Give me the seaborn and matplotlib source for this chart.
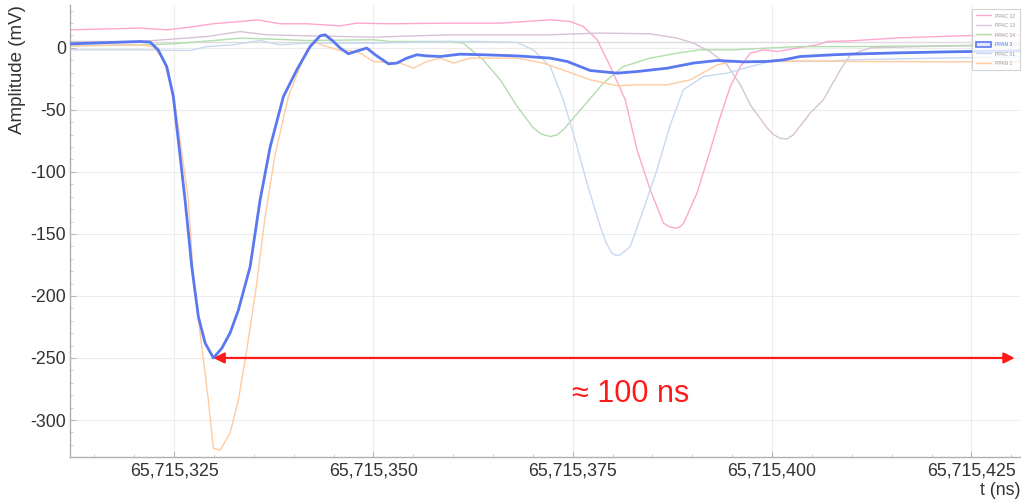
import numpy as np
import pandas as pd
import matplotlib
matplotlib.use("Agg")
import matplotlib.pyplot as plt
from matplotlib.ticker import MultipleLocator, FuncFormatter
from matplotlib.patches import Patch
from matplotlib.lines import Line2D
import seaborn as sns

# Time base (ns); sample times below are offsets from it
T0 = 65_715_300

# PPAN 3 (selected channel)
ppan3_t = [11.95, 15.7, 20.73, 22.0, 23.0, 24.08, 24.91, 26.38, 27.22, 28.05, 28.89, 29.93,
           30.98, 32.03, 33.07, 34.54, 35.79, 37.05, 38.71, 40.40, 42.06, 43.32, 43.95, 44.99,
           45.83, 46.87, 48.12, 49.18, 50.22, 51.89, 52.94, 54.20, 55.45, 56.71, 58.38, 60.88,
           63.77, 68.04, 72.18, 74.31, 77.20, 80.58, 83.09, 86.86, 90.12, 93.13, 96.39, 99.40,
           101.41, 103.54, 107.68, 109.82, 116.09, 122.37, 131.15]
ppan3_v = [3.2, 4.0, 5.1, 4.6, -1.6, -15.1, -39.3, -122.6, -176.4, -216.7, -237.9, -250.0,
           -242.2, -229.8, -211.3, -176.4, -122.6, -80.0, -39.3, -17.7, 1.0, 9.7, 10.5, 5.1,
           -0.2, -4.8, -2.2, -0.2, -5.6, -12.9, -12.3, -8.3, -5.6, -6.5, -7.0, -5.1,
           -5.6, -6.5, -8.3, -11.0, -18.3, -20.4, -19.1, -16.4, -12.3, -10.2, -11.3, -11.0,
           -9.7, -7.0, -5.6, -5.1, -4.0, -3.2, -2.4]

# PPAN 1
ppan1_t = [11.95, 20.73, 22.40, 23.66, 24.91, 25.75, 26.79, 27.42, 28.26, 29.30, 29.93, 30.77,
           32.03, 33.07, 34.12, 35.38, 36.42, 37.67, 39.34, 40.81, 41.65, 42.69, 44.16, 45.83,
           47.08, 48.34, 50.01, 52.10, 53.36, 55.02, 56.71, 58.38, 60.04, 62.14, 68.04, 71.30,
           74.31, 77.20, 80.58, 83.09, 86.86, 89.74, 93.13, 95.14, 99.40, 103.54, 109.82,
           122.37, 131.15]
ppan1_v = [1.6, 2.4, 1.0, -9.7, -36.5, -74.0, -122.6, -184.4, -229.8, -283.9, -322.8, -324.2,
           -310.5, -283.9, -243.5, -189.5, -136.0, -86.0, -39.3, -15.1, -1.6, 4.3, 1.0, -2.2,
           -2.2, -4.3, -11.0, -11.9, -12.3, -16.4, -11.0, -8.3, -12.3, -8.3, -8.3, -12.3,
           -19.1, -25.8, -30.6, -29.8, -29.8, -25.8, -13.7, -11.0, -11.0, -10.5, -11.0,
           -11.3, -11.3]

# PPAC 12
ppac12_t = [11.95, 20.73, 24.08, 27.01, 29.89, 33.28, 35.38, 38.30, 41.65, 45.83, 47.92, 52.10,
            59.63, 65.90, 72.18, 74.69, 76.32, 78.07, 79.71, 81.59, 83.06, 84.72, 86.39, 87.1,
            87.86, 88.4, 88.90, 90.58, 92.25, 93.51, 94.76, 96.02, 97.27, 98.94, 100.62, 103.13,
            105.64, 106.93, 109.82, 116.09, 123.62, 131.15]
ppac12_v = [14.5, 15.9, 14.5, 16.7, 19.4, 21.2, 22.6, 19.4, 19.4, 17.7, 19.9, 19.4,
            19.9, 19.9, 22.6, 21.2, 17.2, 6.5, -15.1, -41.9, -82.3, -114.5, -141.4, -144.2,
            -145.4, -144.5, -141.4, -117.2, -82.3, -55.4, -31.2, -15.1, -4.3, -1.6, -3.0, -0.2,
            2.4, 5.1, 5.6, 8.1, 9.7, 10.5]

# PPAC 01
ppac01_t = [11.95, 20.73, 27.01, 29.10, 32.40, 35.79, 38.30, 41.65, 49.97, 59.63, 63.77, 68.04,
            70.04, 72.18, 73.81, 75.06, 76.78, 78.45, 79.2, 79.92, 80.4, 80.96, 82.21, 83.85,
            85.56, 87.23, 88.86, 91.37, 94.38, 97.27, 99.78, 105.68, 109.82, 122.37, 131.15]
ppac01_v = [-1.6, -1.6, -2.2, 1.0, 2.4, 5.9, 2.4, 3.8, 3.8, 5.1, 5.1, 4.3,
            -1.6, -15.1, -41.9, -68.5, -108.9, -144.1, -157.5, -165.6, -167.3, -166.9, -160.2,
            -130.6, -98.4, -62.1, -33.9, -23.1, -20.4, -15.1, -11.0, -11.0, -9.7, -8.1, -7.3]

# PPAC 14
ppac14_t = [11.95, 20.73, 24.87, 31.15, 33.28, 37.42, 41.65, 49.97, 52.10, 59.63, 61.26, 63.77,
            65.90, 68.04, 70.04, 71.05, 72.18, 73.0, 73.81, 76.32, 78.83, 81.34, 84.72, 88.11,
            90.99, 95.14, 99.40, 103.54, 109.82, 122.37, 131.15]
ppac14_v = [1.6, 2.4, 3.2, 6.5, 7.8, 7.0, 5.9, 6.5, 5.1, 5.1, 3.8, -9.7,
            -25.8, -47.3, -64.5, -69.5, -71.5, -70.3, -66.1, -47.3, -28.5, -15.1, -8.3, -4.3,
            -1.6, -1.6, -0.2, 1.0, 1.0, 1.6, 1.6]

# PPAC 13
ppac13_t = [11.95, 20.73, 29.10, 33.28, 36.63, 41.65, 49.97, 59.63, 72.18, 78.45, 84.72, 88.11,
            90.12, 92.25, 94.35, 96.02, 97.27, 99.36, 100.2, 101.04, 101.9, 102.66, 104.80,
            106.43, 108.56, 109.82, 112.33, 122.37, 131.15]
ppac13_v = [5.1, 5.1, 9.1, 13.1, 10.5, 9.7, 8.6, 10.5, 10.5, 11.9, 11.3, 7.8,
            3.8, -3.2, -13.7, -29.8, -46.0, -64.5, -70.0, -73.0, -73.4, -70.2, -52.4,
            -41.9, -17.7, -5.6, 0.0, 1.6, 3.2]

labels = ["PPAC 12", "PPAC 13", "PPAC 14", "PPAN 3", "PPAC 01", "PPAN 1"]
series_t = [ppac12_t, ppac13_t, ppac14_t, ppan3_t, ppac01_t, ppan1_t]
series_v = [ppac12_v, ppac13_v, ppac14_v, ppan3_v, ppac01_v, ppan1_v]
colors = ["#ffa6cf", "#d8c2d6", "#b2ddad", "#5a78f0", "#c8d9f0", "#ffcba0"]
SELECTED = "PPAN 3"

BASELINE_MV = 5.0
ARROW_SPAN_NS = 100.5
SPAN_TEXT = "\u2248 100 ns"

sns.set_style("whitegrid", {"grid.color": "#ececec", "axes.edgecolor": "#b0b0b0"})
plt.rcParams["font.family"] = ["Liberation Sans", "DejaVu Sans"]

fig = plt.figure(figsize=(10.22, 5.03), dpi=100)
ax = fig.add_axes([0.0685, 0.0915, 0.930, 0.899])

frames = []
for name, t, v in zip(labels, series_t, series_v):
    frames.append(pd.DataFrame({"t": np.asarray(t) + T0, "v": v, "channel": name}))
df = pd.concat(frames, ignore_index=True)

ax.axhline(BASELINE_MV, color="#dcdcdc", lw=1.0, zorder=1)

for name, col in zip(labels, colors):
    sub = df[df["channel"] == name]
    sel = name == SELECTED
    sns.lineplot(data=sub, x="t", y="v", ax=ax, color=col,
                 lw=2.0 if sel else 1.0, zorder=5 if sel else 2,
                 estimator=None, legend=False)

# span marker from the selected channel's minimum
i_min = int(np.argmin(ppan3_v))
t_start = ppan3_t[i_min] + T0
v_min = ppan3_v[i_min]
ax.annotate("", xy=(t_start + ARROW_SPAN_NS, v_min), xytext=(t_start, v_min),
            arrowprops=dict(arrowstyle="<|-|>", color="#ff1a1a", lw=1.6,
                            mutation_scale=16, shrinkA=0, shrinkB=0), zorder=6)
ax.text(T0 + 82.2, -279, SPAN_TEXT, color="#ff1a1a", fontsize=22,
        ha="center", va="center")

ax.set_xlim(T0 + 11.95, T0 + 131.15)
ax.set_ylim(-329.8, 34.7)

ax.xaxis.set_major_locator(MultipleLocator(25))
ax.xaxis.set_minor_locator(MultipleLocator(5))
ax.yaxis.set_major_locator(MultipleLocator(50))
ax.yaxis.set_minor_locator(MultipleLocator(10))
ax.xaxis.set_major_formatter(FuncFormatter(lambda x, p: f"{x:,.0f}"))
ax.yaxis.set_major_formatter(FuncFormatter(lambda y, p: f"{y:.0f}"))
ax.tick_params(axis="both", which="major", direction="in", length=4, color="#b8b8b8",
               labelsize=12.8, labelcolor="#333333")
ax.tick_params(axis="x", which="major", pad=4)
ax.tick_params(axis="y", which="major", pad=3)
ax.tick_params(axis="both", which="minor", direction="in", length=2.5, color="#c8c8c8")
ax.tick_params(axis="x", which="both", bottom=True)
ax.tick_params(axis="y", which="both", left=True)
ax.grid(which="minor", visible=False)

for s in ["top", "right"]:
    ax.spines[s].set_visible(False)
for s in ["left", "bottom"]:
    ax.spines[s].set_color("#b0b0b0")
    ax.spines[s].set_linewidth(1.0)

ax.set_ylabel("Amplitude (mV)", loc="top", fontsize=13.5, color="#333333", labelpad=3)
ax.set_xlabel("t (ns)", loc="right", fontsize=12.8, color="#333333", labelpad=2)

handles = []
for name, col in zip(labels, colors):
    if name == SELECTED:
        handles.append(Patch(facecolor="#e4e9ff", edgecolor=col, lw=1.2))
    else:
        handles.append(Line2D([0], [0], color=col, lw=1.0))
leg = ax.legend(handles, labels, loc="upper right", bbox_to_anchor=(0.999, 0.99),
                borderaxespad=0, fontsize=3.6, labelspacing=0.85, handlelength=3.0,
                handleheight=1.2, handletextpad=0.8, borderpad=0.8, frameon=True,
                fancybox=False)
leg.get_frame().set_edgecolor("#c8c8c8")
leg.get_frame().set_linewidth(0.8)
for txt, name in zip(leg.get_texts(), labels):
    txt.set_color("#5a78f0" if name == SELECTED else "#999999")

fig.savefig("out.png", dpi=100)
